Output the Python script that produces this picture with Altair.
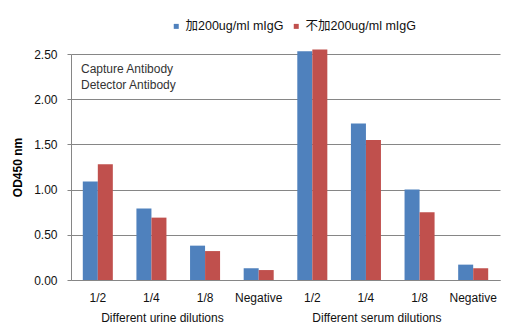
import altair as alt
import pandas as pd

# Dilution categories (group|label) and OD450 readings per series
groups = ["urine", "urine", "urine", "urine", "serum", "serum", "serum", "serum"]
dilutions = ["1/2", "1/4", "1/8", "Negative", "1/2", "1/4", "1/8", "Negative"]
with_igg = [1.09, 0.79, 0.38, 0.13, 2.53, 1.73, 1.00, 0.17]
without_igg = [1.28, 0.69, 0.32, 0.11, 2.55, 1.55, 0.75, 0.13]
series_names = ["加200ug/ml mIgG", "不加200ug/ml mIgG"]
series_colors = ["#4F81BD", "#C0504D"]
group_titles = ["Different urine dilutions", "Different serum dilutions"]
y_ticks = [0.0, 0.5, 1.0, 1.5, 2.0, 2.5]
note_lines = ["Capture Antibody", "Detector Antibody"]

FONT = "Arial, Liberation Sans, Noto Sans CJK SC, sans-serif"

keys = [f"{g}|{d}" for g, d in zip(groups, dilutions)]
rows = []
for k, a, b in zip(keys, with_igg, without_igg):
    rows.append({"key": k, "series": series_names[0], "od": a})
    rows.append({"key": k, "series": series_names[1], "od": b})
df = pd.DataFrame(rows)

x_scale = alt.Scale(domain=keys, paddingInner=0.44, paddingOuter=0.22)

bars = alt.Chart(df).mark_bar().encode(
    x=alt.X(
        "key:N",
        scale=x_scale,
        sort=keys,
        axis=alt.Axis(
            title=None,
            labelExpr="split(datum.label, '|')[1]",
            labelAngle=0,
            ticks=False,
            labelPadding=12,
            labelFontSize=12,
            labelColor="#111111",
            domainColor="#868686",
            labelFont=FONT,
        ),
    ),
    xOffset=alt.XOffset("series:N", sort=series_names,
                        scale=alt.Scale(domain=series_names, paddingInner=0, paddingOuter=0)),
    y=alt.Y(
        "od:Q",
        scale=alt.Scale(domain=[0, 2.5], nice=False),
        axis=alt.Axis(
            title="OD450 nm",
            values=y_ticks,
            format=".2f",
            grid=True,
            gridColor="#868686",
            domainColor="#868686",
            tickColor="#868686",
            tickSize=4,
            labelPadding=10,
            labelFontSize=12,
            labelColor="#111111",
            labelFont=FONT,
            titleFont=FONT,
            titleFontSize=12,
            titleFontWeight="bold",
            titleColor="#000000",
            titleAngle=-90,
            titleX=-54,
            titleBaseline="middle",
        ),
    ),
    color=alt.Color(
        "series:N",
        sort=series_names,
        scale=alt.Scale(domain=series_names, range=series_colors),
        legend=alt.Legend(
            title=None,
            orient="none",
            direction="horizontal",
            legendX=99,
            legendY=-34,
            symbolType="square",
            symbolSize=25,
            symbolStrokeWidth=0,
            labelFontSize=12.5,
            labelFont=FONT,
            labelColor="#111111",
            labelOffset=3,
            columnPadding=6,
        ),
    ),
)

# Group captions under the dilution labels, centred between the 2nd and 3rd category of each group
grp_df = pd.DataFrame({"key": [keys[1], keys[5]], "title": group_titles})
grp_text = alt.Chart(grp_df).mark_text(
    fontSize=12, font=FONT, color="#111111", baseline="middle", dx=-4
).encode(
    x=alt.X("key:N", scale=x_scale, sort=keys, bandPosition=1),
    y=alt.value(264),
    text="title:N",
)

note = alt.Chart(pd.DataFrame({"t": [note_lines]})).mark_text(
    align="left", baseline="top", fontSize=12, font=FONT, color="#333333", lineHeight=16
).encode(
    x=alt.value(10),
    y=alt.value(10),
    text="t",
)

chart = (
    alt.layer(bars, grp_text, note)
    .properties(
        width=429,
        height=226,
        autosize=alt.AutoSizeParams(type="none"),
        padding={"left": 71, "top": 54, "right": 17, "bottom": 55},
        background="white",
    )
    .configure_view(stroke=None)
)

chart.save("out.html", embed_options={"renderer": "svg", "actions": False})
